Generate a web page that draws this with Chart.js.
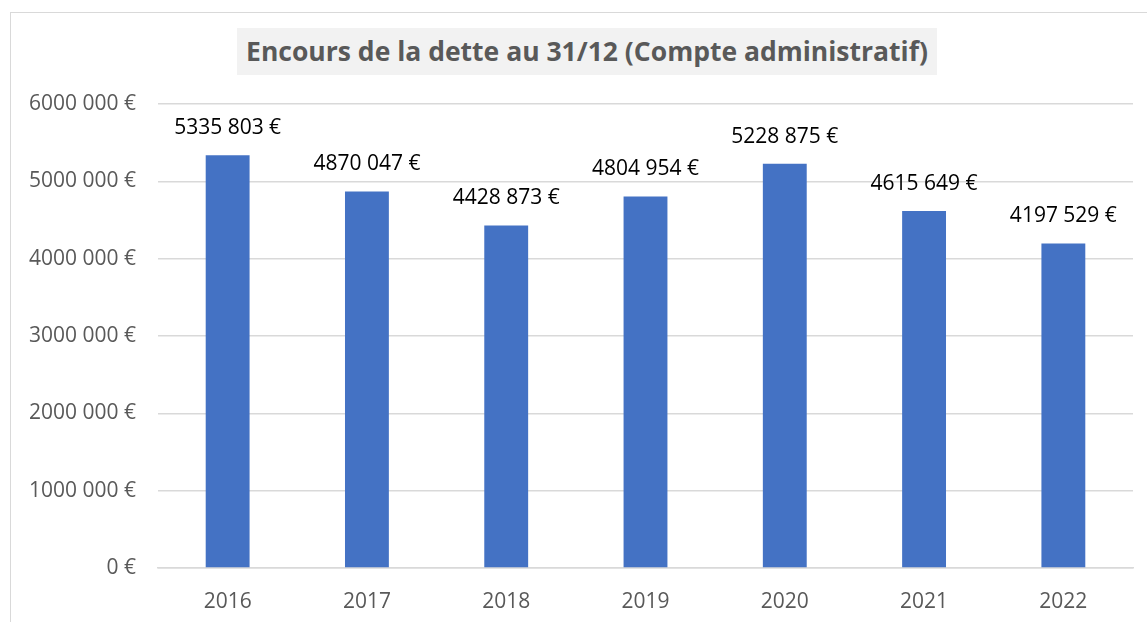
<!DOCTYPE html>
<html>
<head>
<meta charset="utf-8">
<script src="https://cdn.jsdelivr.net/npm/chart.js@4"></script>
<style>
  body { margin: 0; background: #fff; }
  #wrap { position: relative; width: 1147px; height: 622px; overflow: hidden; }
  #frame { position: absolute; left: 10px; top: 12px; width: 1200px; height: 700px;
           border-left: 1px solid #d9d9d9; border-top: 1px solid #d9d9d9; }
  #title { position: absolute; left: 587px; top: 28px; transform: translateX(-50%);
           height: 47px; line-height: 47px; padding: 0 9px; background: #f2f2f2;
           font-family: "Open Sans", sans-serif; font-weight: bold; font-size: 26.5px;
           color: #595959; white-space: nowrap; }
  canvas { position: absolute; left: 0; top: 0; }
</style>
</head>
<body>
<div id="wrap">
  <div id="frame"></div>
  <canvas id="chart" width="1147" height="622"></canvas>
  <div id="title">Encours de la dette au 31/12 (Compte administratif)</div>
</div>
<script>
const years = ["2016", "2017", "2018", "2019", "2020", "2021", "2022"];
const encours = [5335803, 4870047, 4428873, 4804954, 5228875, 4615649, 4197529];
const yMax = 6000000;
const yStep = 1000000;

// format like "5335 803 €"
function euro(n) {
  n = Math.round(n);
  if (n < 1000) return n + " €";
  let rest = String(n % 1000).padStart(3, "0");
  return Math.floor(n / 1000) + " " + rest + " €";
}

const labelFont = '21px "Open Sans", sans-serif';

const valueLabels = {
  id: "valueLabels",
  afterDatasetsDraw(chart) {
    const ctx = chart.ctx;
    const meta = chart.getDatasetMeta(0);
    ctx.save();
    ctx.font = labelFont;
    ctx.fillStyle = "#000";
    ctx.textAlign = "center";
    ctx.textBaseline = "middle";
    meta.data.forEach((bar, i) => {
      ctx.fillText(euro(encours[i]), bar.x, bar.y - 27);
    });
    ctx.restore();
  }
};

new Chart(document.getElementById("chart").getContext("2d"), {
  type: "bar",
  data: {
    labels: years,
    datasets: [{
      data: encours,
      backgroundColor: "#4472c4",
      barPercentage: 0.63,
      categoryPercentage: 0.5
    }]
  },
  options: {
    responsive: false,
    animation: false,
    layout: { padding: { left: 10, right: 14, top: 104, bottom: 0 } },
    plugins: { legend: { display: false }, tooltip: { enabled: false } },
    scales: {
      x: {
        grid: { display: false },
        border: { color: "#d9d9d9", width: 1.5 },
        ticks: { color: "#595959", font: { family: "Open Sans", size: 21 }, padding: 13 },
        afterFit(scale) { scale.height = 54; }
      },
      y: {
        min: 0,
        max: yMax,
        grid: { color: "#d9d9d9", lineWidth: 1.5, drawTicks: false },
        border: { display: false },
        ticks: {
          stepSize: yStep,
          color: "#595959",
          font: { family: "Open Sans", size: 21 },
          padding: 22,
          callback: v => euro(v)
        },
        afterFit(scale) { scale.width = 148; }
      }
    }
  },
  plugins: [valueLabels]
});
</script>
</body>
</html>
